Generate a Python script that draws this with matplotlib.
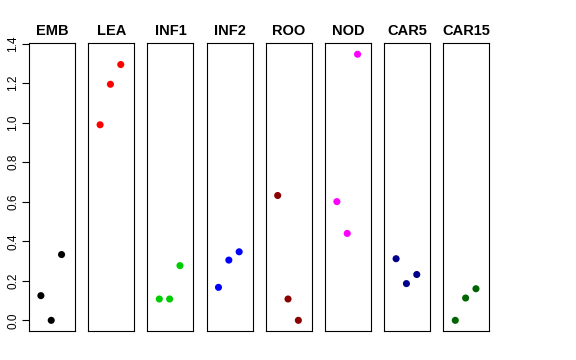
import numpy as np
import matplotlib
matplotlib.use("Agg")
import matplotlib.pyplot as plt

# DATA
groups = ["EMB", "LEA", "INF1", "INF2", "ROO", "NOD", "CAR5", "CAR15"]
colors = ["black", "#FF0000", "#00CD00", "#0000FF", "#8B0000", "#FF00FF", "#00008B", "#006400"]
emb = [0.125, 0.0, 0.333]
lea = [0.99, 1.195, 1.295]
inf1 = [0.108, 0.108, 0.277]
inf2 = [0.167, 0.305, 0.347]
roo = [0.632, 0.108, 0.0]
nod = [0.601, 0.44, 1.347]
car5 = [0.312, 0.186, 0.232]
car15 = [0.0, 0.113, 0.160]
values = [emb, lea, inf1, inf2, roo, nod, car5, car15]
yticks = [0.0, 0.2, 0.4, 0.6, 0.8, 1.0, 1.2, 1.4]

plt.rcParams.update({
    "font.family": ["Liberation Sans", "DejaVu Sans"],
    "axes.linewidth": 0.8,
})

W, H = 576, 360
fig = plt.figure(figsize=(W / 100, H / 100), dpi=100)

left0, pitch, width = 29, 59.2, 46
top, bottom = 43, 331
ymin, ymax = -0.054, 1.404

for i, (name, col, vals) in enumerate(zip(groups, colors, values)):
    ax = fig.add_axes([(left0 + i * pitch) / W, (H - bottom) / H, width / W, (bottom - top) / H])
    x = np.arange(1, len(vals) + 1)
    ax.scatter(x, vals, s=26, c=col, edgecolors="none", zorder=3)
    ax.set_xlim(-0.15, 4.3)
    ax.set_ylim(ymin, ymax)
    ax.set_xticks([])
    ax.set_title(name, fontsize=10.5, fontweight="bold", pad=6)
    if i == 0:
        ax.set_yticks(yticks)
        ax.set_yticklabels([f"{v:.1f}" for v in yticks], fontsize=8.5)
        ax.tick_params(axis="y", length=5, width=0.8, pad=2, labelrotation=90)
        for lab in ax.get_yticklabels():
            lab.set_va("center")
    else:
        ax.set_yticks([])

fig.savefig("out.png", dpi=100)
